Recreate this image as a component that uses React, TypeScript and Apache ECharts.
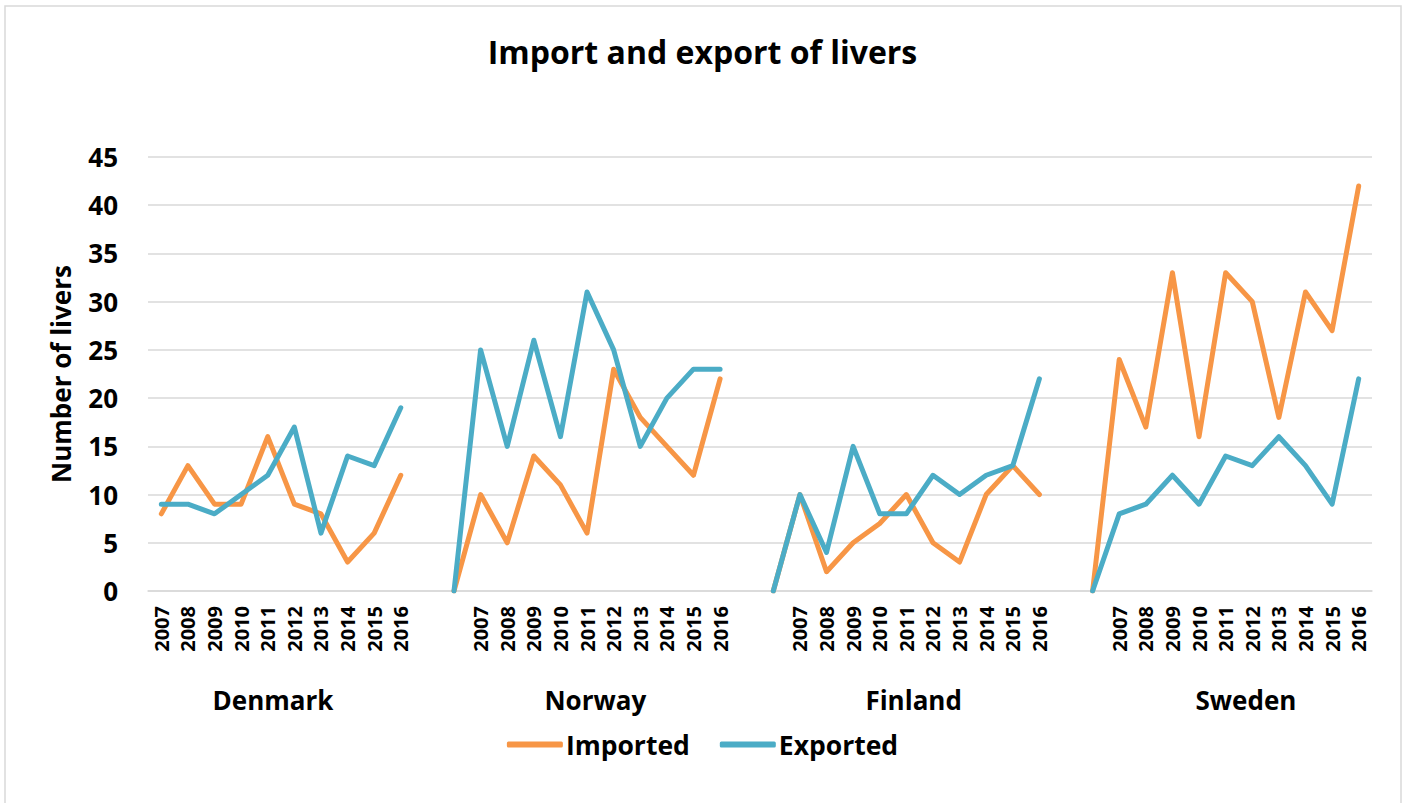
import React, { useEffect, useRef } from "react";
import * as echarts from "echarts";

const years = ["2007", "2008", "2009", "2010", "2011", "2012", "2013", "2014", "2015", "2016"];
const countries = ["Denmark", "Norway", "Finland", "Sweden"];

// Denmark starts directly at 2007; the other groups start with an unlabeled zero point
const denmarkImported = [8, 13, 9, 9, 16, 9, 8, 3, 6, 12];
const denmarkExported = [9, 9, 8, 10, 12, 17, 6, 14, 13, 19];
const norwayImported = [0, 10, 5, 14, 11, 6, 23, 18, 15, 12, 22];
const norwayExported = [0, 25, 15, 26, 16, 31, 25, 15, 20, 23, 23];
const finlandImported = [0, 10, 2, 5, 7, 10, 5, 3, 10, 13, 10];
const finlandExported = [0, 10, 4, 15, 8, 8, 12, 10, 12, 13, 22];
const swedenImported = [0, 24, 17, 33, 16, 33, 30, 18, 31, 27, 42];
const swedenExported = [0, 8, 9, 12, 9, 14, 13, 16, 13, 9, 22];

const yTicks = { min: 0, max: 45, interval: 5 };

const FONT = "'Open Sans', 'Noto Sans', sans-serif";
const ORANGE = "#F79646";
const BLUE = "#4BACC6";
const groupLabelNudge = [-8, -5, -6, 7];

function build() {
  const categories: string[] = [];
  const imp: (number | null)[] = [];
  const exp: (number | null)[] = [];
  const groupYearIdx: number[][] = [];
  const groups = [
    [denmarkImported, denmarkExported],
    [norwayImported, norwayExported],
    [finlandImported, finlandExported],
    [swedenImported, swedenExported],
  ];
  groups.forEach(([gi, ge], g) => {
    if (g > 0) {
      categories.push(" ");
      imp.push(null);
      exp.push(null);
    }
    const lead = gi.length - years.length;
    const idxs: number[] = [];
    for (let k = 0; k < gi.length; k++) {
      const yearIdx = k - lead;
      if (yearIdx < 0) categories.push("");
      else {
        categories.push(years[yearIdx]);
        idxs.push(categories.length - 1);
      }
      imp.push(gi[k]);
      exp.push(ge[k]);
    }
    groupYearIdx.push(idxs);
  });
  return { categories, imp, exp, groupYearIdx };
}

export default function App() {
  const ref = useRef<HTMLDivElement>(null);
  useEffect(() => {
    if (!ref.current) return;
    const chart = echarts.init(ref.current, null, { renderer: "svg" });
    const { categories, imp, exp, groupYearIdx } = build();
    chart.setOption({
      animation: false,
      backgroundColor: "#ffffff",
      title: {
        text: "Import and export of livers",
        left: "center",
        top: 30,
        textStyle: { fontFamily: FONT, fontSize: 32, fontWeight: "bold", color: "#000" },
      },
      legend: {
        bottom: 40,
        left: "center",
        itemWidth: 56,
        itemHeight: 6,
        itemGap: 30,
        icon: "roundRect",
        textStyle: { fontFamily: FONT, fontSize: 26.5, fontWeight: "bold", color: "#000", padding: [0, 0, 0, -2] },
        data: [
          { name: "Imported", icon: "roundRect", itemStyle: { color: ORANGE } },
          { name: "Exported", icon: "roundRect", itemStyle: { color: BLUE } },
        ],
      },
      grid: { left: 148, right: 33, top: 157, bottom: 212, containLabel: false },
      xAxis: {
        type: "category",
        data: categories,
        boundaryGap: true,
        axisLine: { show: true, lineStyle: { color: "#D9D9D9", width: 1.5 } },
        axisTick: { show: false },
        axisLabel: {
          interval: 0,
          rotate: 90,
          margin: 15,
          fontFamily: FONT,
          fontSize: 20,
          fontWeight: "bold",
          color: "#000",
        },
      },
      yAxis: {
        type: "value",
        min: yTicks.min,
        max: yTicks.max,
        interval: yTicks.interval,
        name: "Number of livers",
        nameLocation: "middle",
        nameRotate: 90,
        nameGap: 74,
        nameTextStyle: { fontFamily: FONT, fontSize: 26, fontWeight: "bold", color: "#000" },
        axisLine: { show: false },
        axisTick: { show: false },
        axisLabel: { margin: 30, fontFamily: FONT, fontSize: 26, fontWeight: "bold", color: "#000" },
        splitLine: { lineStyle: { color: "#D9D9D9", width: 1.5 } },
      },
      series: [
        {
          name: "Imported",
          type: "line",
          data: imp,
          symbol: "none",
          connectNulls: false,
          color: ORANGE,
          lineStyle: { color: ORANGE, width: 5, cap: "round", join: "round" },
        },
        {
          name: "Exported",
          type: "line",
          data: exp,
          symbol: "none",
          connectNulls: false,
          color: BLUE,
          lineStyle: { color: BLUE, width: 5, cap: "round", join: "round" },
        },
      ],
    });
    const graphics: any[] = [
      {
        type: "rect",
        shape: { x: 5, y: 6, width: 1396, height: 820 },
        style: { fill: "none", stroke: "#D9D9D9", lineWidth: 1.5 },
        silent: true,
      },
    ];
    groupYearIdx.forEach((idxs, g) => {
      const a = chart.convertToPixel({ xAxisIndex: 0 }, idxs[0]) as number;
      const b = chart.convertToPixel({ xAxisIndex: 0 }, idxs[idxs.length - 1]) as number;
      graphics.push({
        type: "text",
        x: (a + b) / 2 + groupLabelNudge[g],
        y: 700,
        style: {
          text: countries[g],
          fontFamily: FONT,
          fontSize: 26,
          fontWeight: "bold",
          fill: "#000",
          align: "center",
          verticalAlign: "middle",
        },
      });
    });
    chart.setOption({ graphic: graphics });
    return () => chart.dispose();
  }, []);
  return (
    <div
      ref={ref}
      style={{ position: "fixed", left: 0, top: 0, width: 1405, height: 803 }}
    />
  );
}
